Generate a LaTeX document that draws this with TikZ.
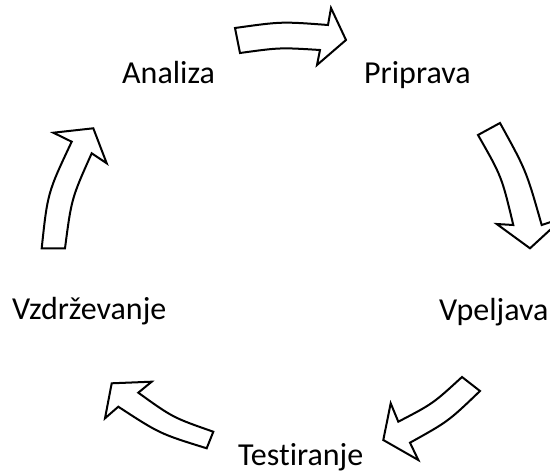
\documentclass[tikz,border=0pt]{standalone}
\usepackage{fontspec}
\setmainfont{Carlito}[Ligatures=NoCommon]
\begin{document}
\begin{tikzpicture}[x=1pt,y=-1pt,
  cyclearrow/.style={draw=black, fill=white, line width=2pt, line join=miter},
  stage/.style={inner sep=0pt, anchor=base west, font=\fontsize{32}{38}\selectfont}]
\useasboundingbox (0,0) rectangle (550,474);
\clip (0,0) rectangle (550,474);

% stage labels
\node[stage] (analiza)     at (122,83.3)  {Analiza};
\node[stage] (priprava)    at (364,83.3)  {Priprava};
\node[stage] (vpeljava)    at (439,320)   {Vpeljava};
\node[stage] (testiranje)  at (238,465)   {Testiranje};
\node[stage] (vzdrzevanje) at (12,319.3)  {Vzdrževanje};

% curved block arrows of the cycle
% Analiza -> Priprava
\draw[cyclearrow] (235,28) .. controls (281.5,21.5) .. (328,25) -- (331,8) -- (346,40)
  -- (317,65) -- (320,50) .. controls (280,47.5) .. (240,53) -- cycle;
% Priprava -> Vpeljava
\draw[cyclearrow] (500,123) .. controls (526.2,170.5) .. (541.7,225) -- (563,218) -- (530,248.3)
  -- (496.7,224) -- (513.3,225) .. controls (501.7,176.5) .. (478,135) -- cycle;
% Vpeljava -> Testiranje
\draw[cyclearrow] (462,377) .. controls (432.9,403.7) .. (398.3,421.7) -- (390.7,403.3) -- (383.3,440)
  -- (418.3,460) -- (410,442.7) .. controls (448.3,421.4) .. (480,391) -- cycle;
% Testiranje -> Vzdrzevanje
\draw[cyclearrow] (213.3,431.7) .. controls (172.9,417.6) .. (138.3,392.7) -- (151.7,381.7) -- (111.7,383.3)
  -- (105,418.3) -- (118.3,406.7) .. controls (159.7,433.7) .. (206.7,448.3) -- cycle;
% Vzdrzevanje -> Analiza
\draw[cyclearrow] (41.7,248.3) .. controls (47.6,192.8) .. (71.7,141.7) -- (53.3,132.7) -- (93.3,128.3)
  -- (106.7,163.3) -- (91.7,153.3) .. controls (71.5,198.5) .. (65,248.3) -- cycle;
\end{tikzpicture}
\end{document}
